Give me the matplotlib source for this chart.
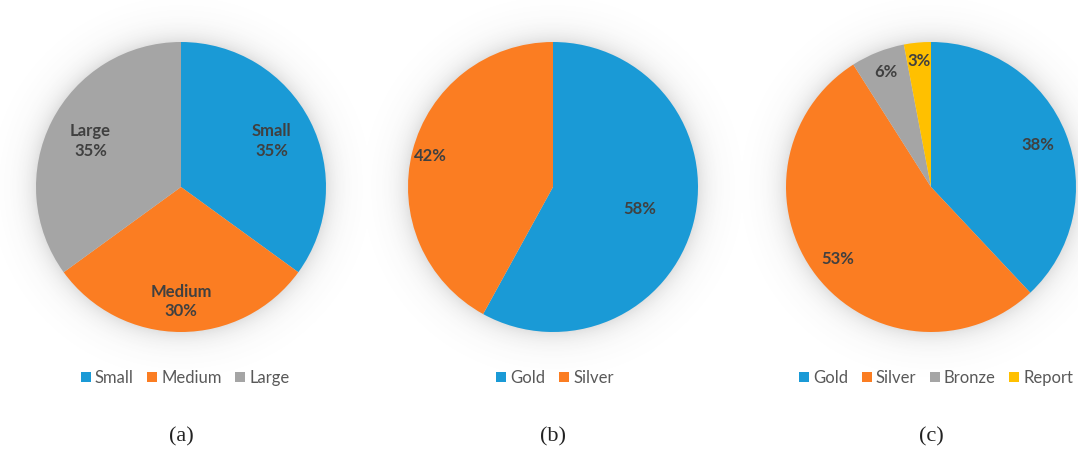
import numpy as np
import matplotlib
matplotlib.use("Agg")
import matplotlib.pyplot as plt
from matplotlib.patches import Patch

# ---- data ----
size_labels = ["Small", "Medium", "Large"]
size_values = [35, 30, 35]

medal2_labels = ["Gold", "Silver"]
medal2_values = [58, 42]

medal4_labels = ["Gold", "Silver", "Bronze", "Report"]
medal4_values = [38, 53, 6, 3]

captions = ["(a)", "(b)", "(c)"]

# ---- style ----
BLUE, ORANGE, GRAY, YELLOW = "#1A9AD6", "#FB7D22", "#A5A5A5", "#FFC000"
W, H = 1078, 451
FONT = ["Lato", "DejaVu Sans"]

fig = plt.figure(figsize=(W / 100, H / 100), dpi=100)
ax = fig.add_axes([0, 0, 1, 1])

R = 145
centers = [(181, H - 187), (553, H - 187), (931, H - 187)]

# soft halo behind each pie
yy, xx = np.mgrid[0:H, 0:W] + 0.5
alpha = np.zeros((H, W))
for cx, cy in centers:
    d = np.hypot(xx - cx, yy - cy) - R
    a = np.where(d > 0, 0.17 * np.exp(-d / 12.0), 0.17)
    alpha = np.maximum(alpha, a)
rgba = np.zeros((H, W, 4))
rgba[..., :3] = 0.3
rgba[..., 3] = alpha
ax.imshow(rgba, extent=(0, W, 0, H), origin="lower", zorder=0, interpolation="bilinear")


def draw_pie(center, values, colors, texts, dists):
    ax.pie(values, colors=colors, startangle=90, counterclock=False,
           center=center, radius=R, frame=True,
           wedgeprops=dict(linewidth=0))
    total = sum(values)
    start = 90.0
    for v, txt, dist in zip(values, texts, dists):
        span = 360.0 * v / total
        mid = np.deg2rad(start - span / 2)
        start -= span
        x = center[0] + dist * R * np.cos(mid)
        y = center[1] + dist * R * np.sin(mid)
        ax.text(x, y, txt, ha="center", va="center", fontsize=12,
                fontweight="bold", color="#404040", family=FONT,
                linespacing=1.3, zorder=5)


draw_pie(centers[0], size_values, [BLUE, ORANGE, GRAY],
         [f"{l}\n{v}%" for l, v in zip(size_labels, size_values)],
         [0.70, 0.79, 0.70])
draw_pie(centers[1], medal2_values, [BLUE, ORANGE],
         [f"{v}%" for v in medal2_values], [0.62, 0.87])
draw_pie(centers[2], medal4_values, [BLUE, ORANGE, GRAY, YELLOW],
         [f"{v}%" for v in medal4_values], [0.79, 0.81, 0.85, 0.87])

ax.set_xlim(0, W)
ax.set_ylim(0, H)
ax.set_aspect("auto")
ax.axis("off")

legend_sets = [
    (size_labels, [BLUE, ORANGE, GRAY]),
    (medal2_labels, [BLUE, ORANGE]),
    (medal4_labels, [BLUE, ORANGE, GRAY, YELLOW]),
]
legend_x = [185, 555, 936]
for (labels, cols), lx in zip(legend_sets, legend_x):
    handles = [Patch(facecolor=c, edgecolor="none") for c in cols]
    fig.legend(handles, labels, loc="center", bbox_to_anchor=(lx / W, 1 - 378 / H),
               ncol=len(labels), frameon=False, handlelength=0.6, handleheight=0.6,
               handletextpad=0.25, columnspacing=0.8,
               prop=dict(family=FONT, size=12), labelcolor="#595959")

for (cx, _), cap in zip(centers, captions):
    ax.text(cx, H - 437, cap, ha="center", va="center", fontsize=16,
            family=["Liberation Serif", "DejaVu Serif"], color="#222222")

fig.savefig("out.png", dpi=100)
